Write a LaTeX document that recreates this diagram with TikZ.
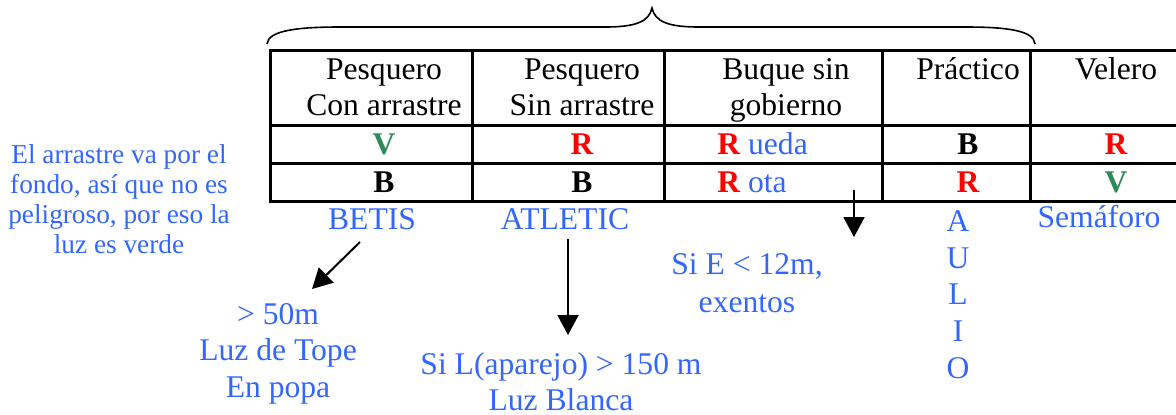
\documentclass[tikz,border=0pt]{standalone}
\usepackage{fontspec}
\setmainfont{Liberation Serif}
\usetikzlibrary{arrows.meta}
\definecolor{azul}{RGB}{51,102,255}
\definecolor{verde}{RGB}{46,139,87}
\definecolor{rojo}{RGB}{255,0,0}

\begin{document}
\begin{tikzpicture}
  [x=0.5pt,y=-0.5pt,
  cell/.style={anchor=base,inner sep=0pt,font=\fontsize{15.8}{18}\selectfont},
  head/.style={cell,align=center},
  letra/.style={cell,font=\fontsize{15.8}{18}\selectfont\bfseries},
  nota/.style={cell,text=azul,align=center},
  notita/.style={anchor=base,inner sep=0pt,text=azul,align=center,font=\fontsize{13.65}{14.85}\selectfont},
  flecha/.style={-{Triangle[length=10pt,width=10.5pt]},line width=1pt}]
  \useasboundingbox (0,0) rectangle (1176,414);

  % llave
  \draw [line width=0.8pt] (267,44) .. controls (268,30) and (300,27) .. (340,27) -- (605,27)
    .. controls (635,27) and (649,22) .. (652,8) .. controls (655,22) and (669,27) .. (699,27)
    -- (965,27) .. controls (1005,27) and (1034,30) .. (1035,44);

  % tabla
  \draw [line width=1.5pt] (1176,50) -- (270,50) -- (270,201) -- (1176,201);
  \draw [line width=1.5pt] (270,125) -- (1176,125) (270,163) -- (1176,163);
  \foreach \x in {472,664,882,1030}
    \draw [line width=1.5pt] (\x,50) -- (\x,201);

  % (base = ultima linea)
  \node[head] (h1) at (384,115) {Pesquero\\Con arrastre};
  \node[head] (h2) at (582,115) {Pesquero\\Sin arrastre};
  \node[head] (h3) at (786,115) {Buque sin\\gobierno};
  \node[head] (h4) at (968,79) {Práctico};
  \node[head] (h5) at (1116,79) {Velero};

  \node[letra,text=verde] (v1) at (384,154) {V};
  \node[letra,text=rojo] (r2) at (582,154) {R};
  \node[cell,anchor=base west] (rueda) at (717,154) {\textbf{\color{rojo}R} \color{azul}ueda};
  \node[letra] (b4) at (968,154) {B};
  \node[letra,text=rojo] (r5) at (1116,154) {R};

  \node[letra] (b1) at (384,192) {B};
  \node[letra] (b2) at (582,192) {B};
  \node[cell,anchor=base west] (rota) at (717,192) {\textbf{\color{rojo}R} \color{azul}ota};
  \node[letra,text=rojo] (r4) at (968,192) {R};
  \node[letra,text=verde] (v5) at (1116,192) {V};

  % notas
  \node[notita] (arrastre) at (119,253) {El arrastre va por el\\fondo, así que no es\\peligroso, por eso la\\luz es verde};
  \node[nota] (betis) at (372,229) {BETIS};
  \node[nota] (atletic) at (565,229) {ATLETIC};
  \node[nota,font=\fontsize{15.8}{18.3}\selectfont] (aulio) at (958,378) {A\\U\\L\\I\\O};
  \node[nota] (semaforo) at (1099,227) {Semáforo};
  \node[nota,font=\fontsize{15.8}{18.25}\selectfont] (tope) at (278,397) {> 50m\\Luz de Tope\\En popa};
  \node[nota,font=\fontsize{15.8}{19}\selectfont] (exentos) at (747,312) {Si E < 12m,\\exentos};
  \node[nota] (blanca) at (561,410) {Si L(aparejo) > 150 m\\Luz Blanca};

  \coordinate (f1a) at (360,242);
  \coordinate (f1b) at (312,289);
  \coordinate (f2a) at (568,239);
  \coordinate (f2b) at (568,335);
  \coordinate (f3a) at (854,190);
  \coordinate (f3b) at (854,237);
  \draw [flecha] (f1a) -- (f1b);
  \draw [flecha] (f2a) -- (f2b);
  \draw [flecha] (f3a) -- (f3b);
\end{tikzpicture}
\end{document}
